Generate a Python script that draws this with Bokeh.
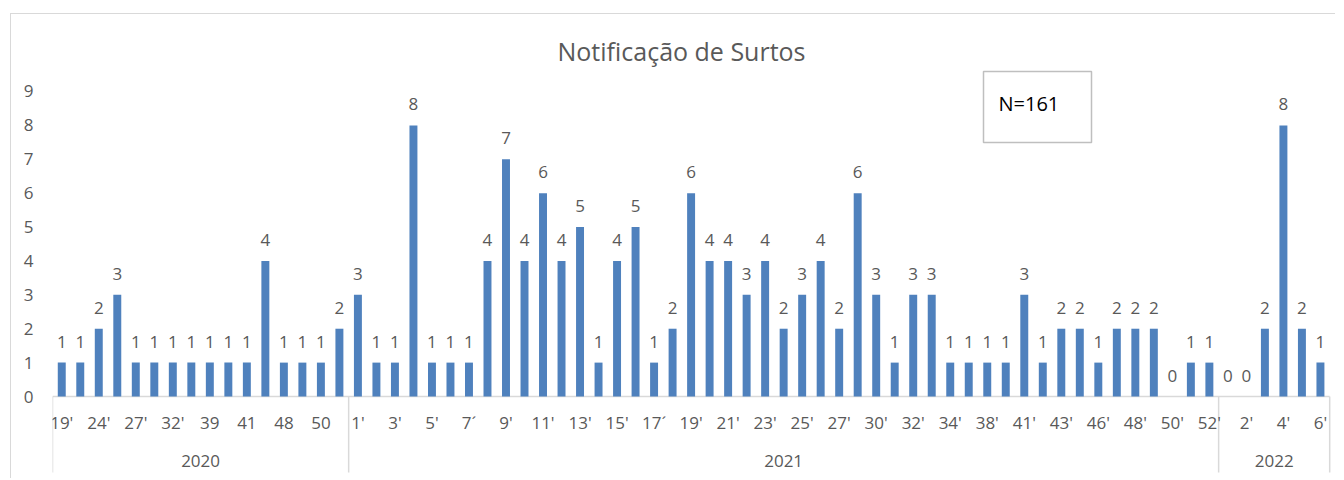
from bokeh.plotting import figure
from bokeh.models import ColumnDataSource, Range1d, FixedTicker
from bokeh.core.properties import value
from bokeh.embed import file_html
from bokeh.resources import INLINE

# ---------------- data ----------------
title_text = "Notificação de Surtos"
n_text = "N=161"
years = ["2020", "2021", "2022"]

values_2020 = [1, 1, 2, 3, 1, 1, 1, 1, 1, 1, 1, 4, 1, 1, 1, 2]
values_2021 = [3, 1, 1, 8, 1, 1, 1, 4, 7, 4, 6, 4, 5, 1, 4, 5, 1, 2, 6, 4, 4, 3, 4, 2,
               3, 4, 2, 6, 3, 1, 3, 3, 1, 1, 1, 1, 3, 1, 2, 2, 1, 2, 2, 2, 0, 1, 1]
values_2022 = [0, 0, 2, 8, 2, 1]

# week tick labels ("" = week not labelled on the axis)
weeks_2020 = ["19'", "", "24'", "", "27'", "", "32'", "", "39", "", "41", "", "48", "", "50", ""]
weeks_2021 = ["1'", "", "3'", "", "5'", "", "7´", "", "9'", "", "11'", "", "13'", "", "15'", "",
              "17´", "", "19'", "", "21'", "", "23'", "", "25'", "", "27'", "", "30'", "", "32'", "",
              "34'", "", "38'", "", "41'", "", "43'", "", "46'", "", "48'", "", "50'", "", "52'"]
weeks_2022 = ["", "2'", "", "4'", "", "6'"]

# ---------------- layout ----------------
W, H = 1325, 465
LEFT, RIGHT = 41, 5
PAGE_X0, PAGE_Y0 = 11, 14          # page position of the figure's inner top-left corner
PX_X = 18.51
PX_Y = 33.89
ZERO_PAGE_Y = 396
ZERO_FIG_Y = ZERO_PAGE_Y - PAGE_Y0

y_top = ZERO_FIG_Y / PX_Y
y_bot = -(H - ZERO_FIG_Y) / PX_Y
x_start = 0.5
x_end = x_start + (W - LEFT - RIGHT) / PX_X

def page_x(px):
    return x_start + (px - PAGE_X0 - LEFT) / PX_X

def page_y(py):
    return (ZERO_PAGE_Y - py) / PX_Y

groups = [values_2020, values_2021, values_2022]
week_groups = [weeks_2020, weeks_2021, weeks_2022]

xs, tops, wk = [], [], []
bounds = [0.5]
centers = []
pos = 1
for vals, wks in zip(groups, week_groups):
    start = pos
    for v, w in zip(vals, wks):
        xs.append(pos)
        tops.append(v)
        wk.append(w)
        pos += 1
    bounds.append(pos - 0.5)
    centers.append((start + pos - 1) / 2)

BLUE = "#4f81bd"
GREY_TXT = "#595959"
LINE = "#d9d9d9"
FONT = "Open Sans"
FS = "17px"

p = figure(width=W, height=H, x_range=Range1d(x_start, x_end), y_range=Range1d(y_bot, y_top),
           output_backend="svg", toolbar_location=None, x_axis_location=None,
           min_border_left=LEFT, min_border_right=RIGHT, min_border_top=0, min_border_bottom=0,
           outline_line_color=None, margin=(13, 0, 0, 10),
           styles={"border-top": "1px solid #d9d9d9", "border-left": "1px solid #d9d9d9"})
p.xgrid.visible = False
p.ygrid.visible = False

p.yaxis.ticker = FixedTicker(ticks=list(range(10)))
p.yaxis.axis_line_color = None
p.yaxis.major_tick_line_color = None
p.yaxis.minor_tick_line_color = None
p.yaxis.major_label_text_font_size = FS
p.yaxis.major_label_text_color = GREY_TXT
p.yaxis.major_label_text_font = FONT
p.yaxis.major_label_standoff = 13

src = ColumnDataSource(dict(x=xs, top=tops, lab=[str(t) for t in tops]))

sep_bottom = page_y(472)
# axis base line
p.segment(x0=[bounds[0]], y0=[0], x1=[bounds[-1]], y1=[0], line_color=LINE, line_width=1.5)
# category separators
p.segment(x0=bounds, y0=[0] * len(bounds), x1=bounds, y1=[sep_bottom] * len(bounds),
          line_color=LINE, line_width=1.5)

p.vbar(x="x", top="top", width=0.43, source=src, fill_color=BLUE, line_color=None)

p.text(x="x", y="top", text="lab", source=src, y_offset=-21, text_align="center",
       text_baseline="middle", text_font_size=FS, text_color=GREY_TXT,
       text_font=value(FONT))

wsrc = ColumnDataSource(dict(x=[x for x, w in zip(xs, wk) if w],
                             y=[0] * sum(1 for w in wk if w),
                             t=[w for w in wk if w]))
p.text(x="x", y="y", text="t", source=wsrc, y_offset=26, text_align="center",
       text_baseline="middle", text_font_size=FS, text_color=GREY_TXT,
       text_font=value(FONT))

p.text(x=centers, y=[0] * 3, text=years, y_offset=64, text_align="center",
       text_baseline="middle", text_font_size=FS, text_color=GREY_TXT,
       text_font=value(FONT))

# title
p.text(x=[page_x(681)], y=[page_y(50)], text=[title_text], text_align="center",
       text_baseline="middle", text_font_size="25px", text_color=GREY_TXT,
       text_font=value(FONT))

# N box
p.quad(left=[page_x(983)], right=[page_x(1091)], top=[page_y(71)], bottom=[page_y(142)],
       fill_color="white", line_color="#bfbfbf", line_width=1.5)
p.text(x=[page_x(998)], y=[page_y(103)], text=[n_text], text_align="left",
       text_baseline="middle", text_font_size="20px", text_color="#000000",
       text_font=value(FONT))

open("out.html", "w").write(file_html(p, INLINE))
